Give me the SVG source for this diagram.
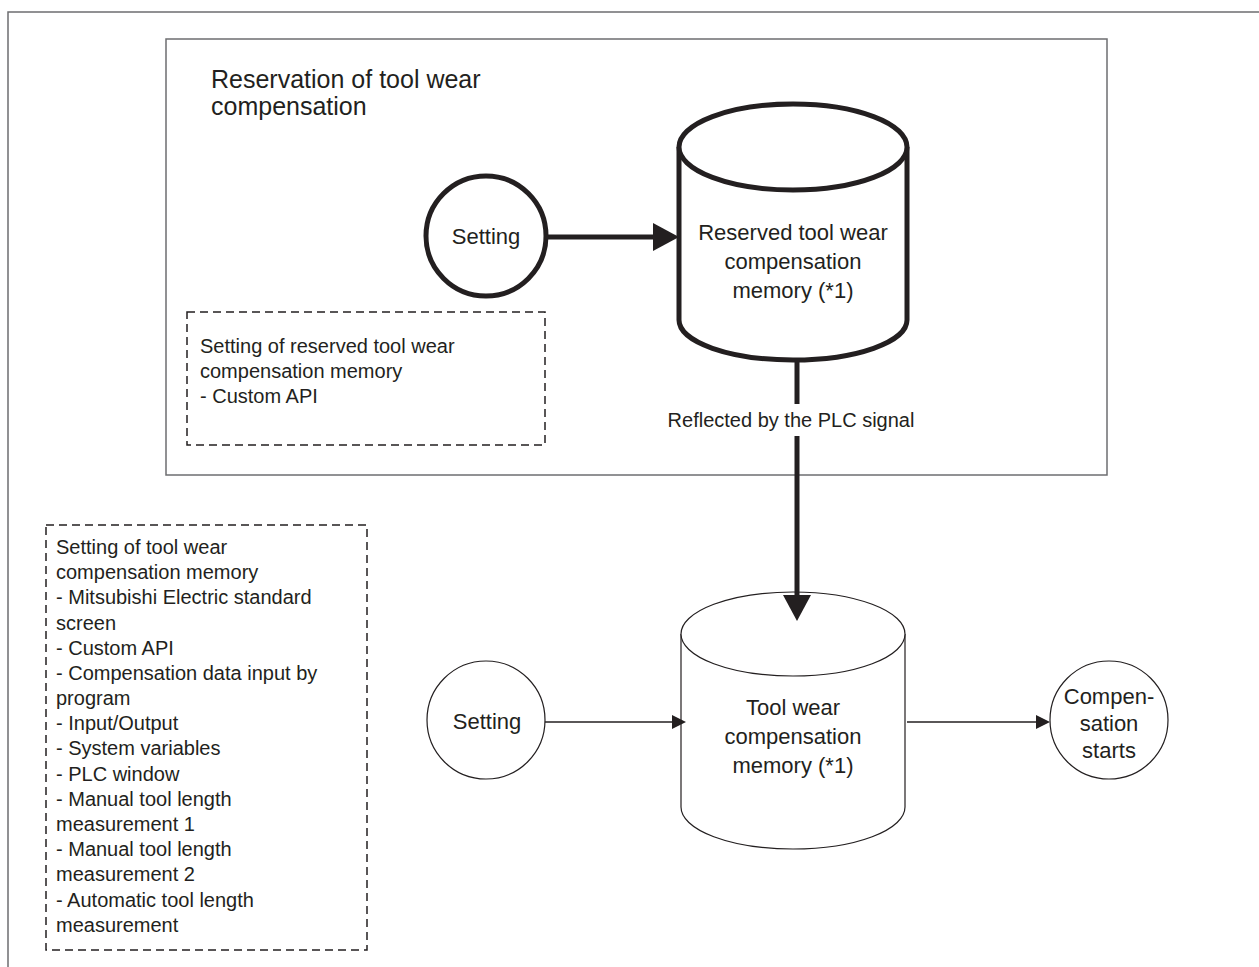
<svg xmlns="http://www.w3.org/2000/svg" width="1259" height="967" viewBox="0 0 1259 967">
<style>
text{font-family:"Liberation Sans",Arial,sans-serif;fill:#231f20}
.t20{font-size:20px}
.t22{font-size:22px}
.t25{font-size:25px}
.mid{text-anchor:middle}
.frame{fill:none;stroke:#6d6e70;stroke-width:1.5}
.dash{fill:none;stroke:#231f20;stroke-width:1.5;stroke-dasharray:8 5}
.thick{fill:#fff;stroke:#231f20;stroke-width:5}
.thin{fill:#fff;stroke:#231f20;stroke-width:1.2}
.cthick{fill:none;stroke:#231f20;stroke-width:5}
.cthin{fill:none;stroke:#231f20;stroke-width:1.3}
</style>
<defs>
<marker id="bigArrow" markerUnits="userSpaceOnUse" markerWidth="26" markerHeight="28" refX="0" refY="14" orient="auto">
<path d="M0,0 L26,14 L0,28 Z" fill="#231f20"/>
</marker>
<marker id="smallArrow" markerUnits="userSpaceOnUse" markerWidth="14" markerHeight="14" refX="0" refY="7" orient="auto">
<path d="M0,0 L14,7 L0,14 Z" fill="#231f20"/>
</marker>
</defs>
<rect width="1259" height="967" fill="#fff"/>
<rect class="frame" x="8" y="12" width="1270" height="980"/>
<g id="reservation-area">
<rect class="frame" x="166" y="39" width="941" height="436"/>
<text class="t25" x="211" y="88">Reservation of tool wear</text>
<text class="t25" x="211" y="115">compensation</text>
</g>
<g id="reserved-setting-note">
<rect class="dash" x="187" y="312" width="358" height="133"/>
<text class="t20" x="200" y="353">Setting of reserved tool wear</text>
<text class="t20" x="200" y="378">compensation memory</text>
<text class="t20" x="200" y="403">- Custom API</text>
</g>
<g id="setting-note">
<rect class="dash" x="46" y="525" width="321" height="425"/>
<text class="t20" x="56" y="554">Setting of tool wear</text>
<text class="t20" x="56" y="579">compensation memory</text>
<text class="t20" x="56" y="604">- Mitsubishi Electric standard</text>
<text class="t20" x="56" y="630">screen</text>
<text class="t20" x="56" y="655">- Custom API</text>
<text class="t20" x="56" y="680">- Compensation data input by</text>
<text class="t20" x="56" y="705">program</text>
<text class="t20" x="56" y="730">- Input/Output</text>
<text class="t20" x="56" y="755">- System variables</text>
<text class="t20" x="56" y="781">- PLC window</text>
<text class="t20" x="56" y="806">- Manual tool length</text>
<text class="t20" x="56" y="831">measurement 1</text>
<text class="t20" x="56" y="856">- Manual tool length</text>
<text class="t20" x="56" y="881">measurement 2</text>
<text class="t20" x="56" y="907">- Automatic tool length</text>
<text class="t20" x="56" y="932">measurement</text>
</g>
<g id="setting-top">
<circle class="thick" cx="486" cy="236" r="60"/>
<text class="t22 mid" x="486" y="244">Setting</text>
</g>
<g id="reserved-memory">
<path class="thick" d="M679,147 L679,320 A114,40 0 0 0 907,320 L907,147"/>
<ellipse class="thick" cx="793" cy="147" rx="114" ry="43"/>
<text class="t22 mid" x="793" y="240">Reserved tool wear</text>
<text class="t22 mid" x="793" y="269">compensation</text>
<text class="t22 mid" x="793" y="298">memory (*1)</text>
</g>
<g id="setting-bottom">
<circle class="thin" cx="486" cy="720" r="59"/>
<text class="t22 mid" x="487" y="729">Setting</text>
</g>
<g id="tool-wear-memory">
<path class="thin" d="M681,634 L681,807 A112,42 0 0 0 905,807 L905,634"/>
<ellipse class="thin" cx="793" cy="634" rx="112" ry="42"/>
<text class="t22 mid" x="793" y="715">Tool wear</text>
<text class="t22 mid" x="793" y="744">compensation</text>
<text class="t22 mid" x="793" y="773">memory (*1)</text>
</g>
<g id="compensation-starts">
<circle class="thin" cx="1109" cy="720" r="59"/>
<text class="t22 mid" x="1109" y="704">Compen-</text>
<text class="t22 mid" x="1109" y="731">sation</text>
<text class="t22 mid" x="1109" y="758">starts</text>
</g>
<g id="connectors">
<line class="cthick" x1="546" y1="237" x2="653" y2="237" marker-end="url(#bigArrow)"/>
<line class="cthick" x1="797" y1="360" x2="797" y2="595" marker-end="url(#bigArrow)"/>
<rect x="664" y="404" width="254" height="32" fill="#fff"/>
<text class="t20 mid" x="791" y="427">Reflected by the PLC signal</text>
<line class="cthin" x1="545" y1="722" x2="672" y2="722" marker-end="url(#smallArrow)"/>
<line class="cthin" x1="907" y1="722" x2="1036" y2="722" marker-end="url(#smallArrow)"/>
</g>
</svg>
